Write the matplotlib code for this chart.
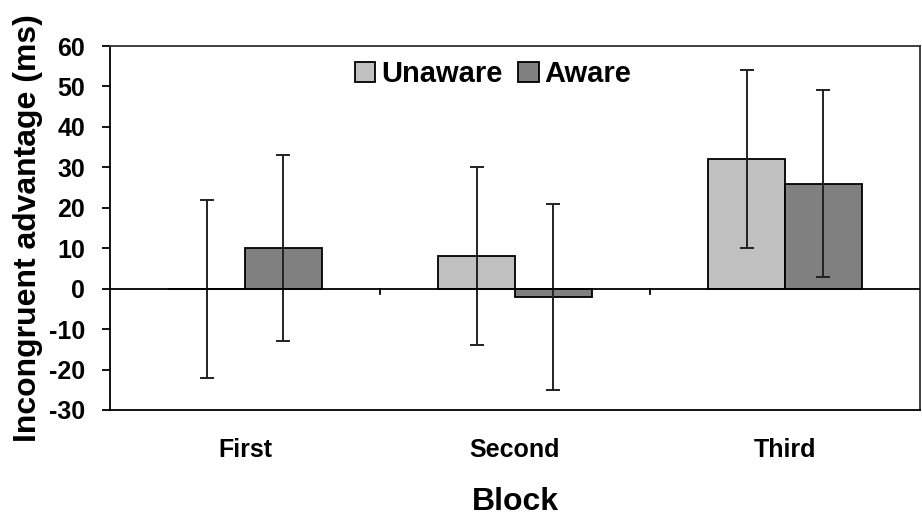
import matplotlib.pyplot as plt
import numpy as np

# datos
bloques = ['First', 'Second', 'Third']
unaware = [0, 8, 32]
unaware_err = [22, 22, 22]
aware = [10, -2, 26]
aware_err = [23, 23, 23]

plt.rcParams['font.family'] = ['Liberation Sans', 'DejaVu Sans']
plt.rcParams['font.weight'] = 'bold'
plt.rcParams['axes.unicode_minus'] = False

fig = plt.figure(figsize=(9.22, 5.20), dpi=100)
ax = fig.add_axes([110 / 922, 1 - 410 / 520, 810 / 922, 364 / 520])

x = np.arange(len(bloques))
ancho = 0.284

ax.bar(x - ancho / 2, unaware, ancho, color='#c0c0c0', edgecolor='black',
       linewidth=1.3, label='Unaware', zorder=2)
ax.bar(x + ancho / 2, aware, ancho, color='#808080', edgecolor='black',
       linewidth=1.3, label='Aware', zorder=2)
ax.errorbar(x - ancho / 2, unaware, yerr=unaware_err, fmt='none', ecolor='#222222',
            elinewidth=1.4, capsize=5, capthick=1.4, zorder=3)
ax.errorbar(x + ancho / 2, aware, yerr=aware_err, fmt='none', ecolor='#222222',
            elinewidth=1.4, capsize=5, capthick=1.4, zorder=3)

# linea del cero con marcas entre categorias
ax.axhline(0, color='black', linewidth=1.3, zorder=4)
for b in x[:-1] + 0.5:
    ax.plot([b, b], [0, -1.4], color='black', linewidth=1.3, zorder=4)

ax.set_xlim(-0.5, len(bloques) - 0.5)
ax.set_ylim(-30, 60)
ax.set_yticks(range(-30, 61, 10))
ax.set_xticks(x)
ax.set_xticklabels(bloques)

ax.tick_params(axis='y', direction='out', length=6, width=1.3, pad=12, labelsize=18)
ax.tick_params(axis='x', length=0, pad=20, labelsize=18)

for lado in ['left', 'bottom']:
    ax.spines[lado].set_linewidth(1.3)
    ax.spines[lado].set_color('black')
for lado in ['top', 'right']:
    ax.spines[lado].set_linewidth(1.3)
    ax.spines[lado].set_color('#333333')

ax.set_xlabel('Block', fontsize=23, fontweight='bold', labelpad=18)
ax.set_ylabel('Incongruent advantage (ms)', fontsize=23, fontweight='bold', labelpad=4)

ax.legend(loc='center', bbox_to_anchor=(0.473, 0.923), ncol=2, frameon=False,
          fontsize=21, handlelength=0.7, handleheight=0.7, handletextpad=0.2,
          columnspacing=0.55, borderpad=0)

plt.savefig('out.png', dpi=100)
